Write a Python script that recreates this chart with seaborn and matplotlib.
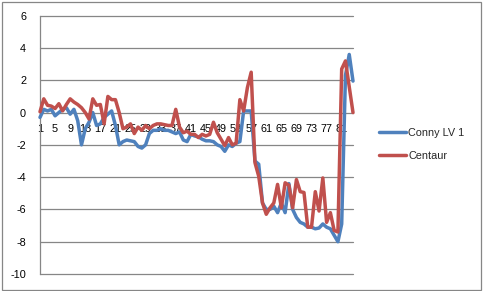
import matplotlib
matplotlib.use("Agg")
import matplotlib.pyplot as plt
import seaborn as sns
import pandas as pd
import numpy as np
from matplotlib.patches import Rectangle
from matplotlib.lines import Line2D

categories = list(range(1, 85))
conny = [-0.3, 0.2, 0.1, 0.2, -0.2, 0.0, 0.2, 0.3, -0.1, 0.2,
         -0.5, -2.0, -1.0, -0.6, 0.0, -0.8, -0.7, -0.3, -0.1, 0.1,
         -0.8, -2.0, -1.8, -1.7, -1.75, -1.8, -2.1, -2.2, -2.0, -1.3,
         -1.1, -1.1, -1.0, -1.1, -1.1, -1.2, -1.3, -1.2, -1.7, -1.8,
         -1.35, -1.45, -1.5, -1.65, -1.75, -1.75, -1.8, -2.0, -2.1, -2.4,
         -2.0, -2.1, -1.9, -1.8, 0.1, 0.1, 0.1, -3.0, -3.2, -5.6,
         -6.0, -6.0, -5.8, -6.2, -5.6, -6.2, -4.4, -6.0, -6.5, -6.8,
         -6.9, -7.1, -7.1, -7.2, -7.15, -6.9, -7.1, -7.2, -7.6, -8.0,
         -6.9, 2.3, 3.6, 1.95]
centaur = [0.05, 0.85, 0.45, 0.4, 0.25, 0.55, 0.1, 0.5, 0.85, 0.65,
           0.5, 0.3, 0.0, -0.4, 0.85, 0.45, 0.5, -0.7, 1.0, 0.8,
           0.8, 0.0, -1.0, -0.9, -0.7, -1.3, -0.9, -1.1, -0.8, -1.0,
           -0.8, -0.7, -0.7, -0.75, -0.8, -0.8, 0.2, -0.9, -1.25, -1.15,
           -1.35, -1.35, -1.55, -1.35, -1.45, -1.35, -0.6, -1.25, -1.65, -2.05,
           -1.55, -2.0, -1.9, 0.8, 0.1, 1.55, 2.5, -3.1, -3.95, -5.6,
           -6.3, -5.9, -5.6, -4.45, -5.9, -4.35, -4.5, -5.9, -4.15, -4.9,
           -4.95, -7.1, -7.1, -4.9, -6.1, -4.05, -6.8, -6.2, -7.3, -7.4,
           2.7, 3.2, 1.6, 0.0]
series_names = ["Conny LV 1", "Centaur"]
colors = ["#4F81BD", "#C0504D"]
x_tick_labels = [str(v) for v in range(1, 82, 4)]
y_ticks = list(range(-10, 7, 2))

df = pd.DataFrame({
    "x": categories * 2,
    "y": conny + centaur,
    "series": [series_names[0]] * len(conny) + [series_names[1]] * len(centaur),
})

sns.set_theme(style="white")
plt.rcParams["font.family"] = ["Liberation Sans", "DejaVu Sans"]

W, H = 483, 291
fig = plt.figure(figsize=(W / 100, H / 100), dpi=100)
fig.patch.set_facecolor("white")
L, R, T, B = 40, 353, 15.7, 274
ax = fig.add_axes([L / W, 1 - B / H, (R - L) / W, (B - T) / H])

sns.lineplot(data=df, x="x", y="y", hue="series", palette=colors,
             hue_order=series_names, linewidth=2.5, ax=ax, legend=False)
for ln in ax.lines:
    ln.set_clip_on(False)
    ln.set_solid_joinstyle("round")
    ln.set_zorder(3)

grid_c = "#868686"
ax.set_xlim(1, 84)
ax.set_ylim(-10, 6)
ax.set_yticks(y_ticks)
ax.set_yticklabels([str(v) for v in y_ticks])
for v in y_ticks:
    if v != 0:
        gl = ax.axhline(v, color=grid_c, lw=0.9, zorder=0)
        gl.set_clip_on(False)

ax.set_xticks(list(range(1, 82, 4)))
ax.set_xticklabels(x_tick_labels)
ax.set_xticks(categories, minor=True)
for s in ["top", "right"]:
    ax.spines[s].set_visible(False)
ax.spines["bottom"].set_position(("data", 0))
ax.spines["bottom"].set_color(grid_c)
ax.spines["bottom"].set_linewidth(0.9)
ax.spines["bottom"].set_zorder(0.5)
ax.spines["left"].set_color(grid_c)
ax.spines["left"].set_linewidth(0.9)
ax.tick_params(axis="x", which="both", direction="out", length=3, width=0.8,
               color=grid_c, pad=5.5, labelsize=7.8, labelcolor="black")
ax.tick_params(axis="y", direction="out", length=3, width=0.8,
               color=grid_c, pad=7, labelsize=7.8, labelcolor="black")
ax.set_xlabel("")
ax.set_ylabel("")

handles = [Line2D([0], [0], color=c, lw=2.5) for c in colors]
fig.legend(handles, series_names, loc="center left",
           bbox_to_anchor=(379 / W, 1 - 144.7 / H), frameon=False,
           fontsize=7.8, handlelength=2.5, handletextpad=0.2,
           labelspacing=1.2, borderpad=0, borderaxespad=0)

fig.patches.append(Rectangle((1.5 / W, 1.5 / H), (W - 3.5) / W, (H - 3.5) / H,
                             transform=fig.transFigure, fill=False,
                             edgecolor=grid_c, lw=0.9))

fig.savefig("out.png", dpi=100, facecolor="white")
